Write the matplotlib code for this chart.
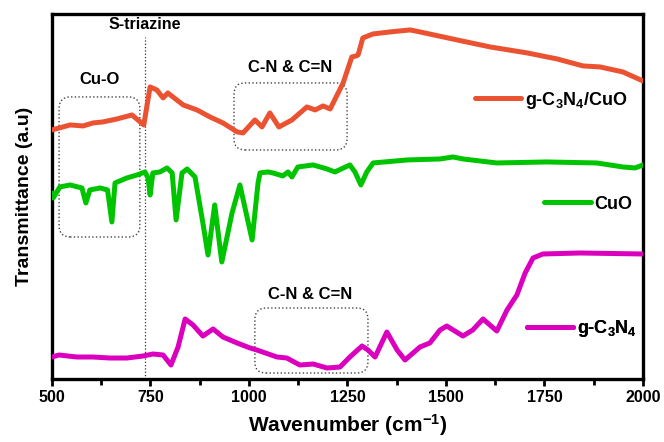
import numpy as np
import matplotlib.pyplot as plt
from matplotlib.patches import FancyBboxPatch

# Font setup ----------------------------------------------
plt.rcParams['font.family'] = ['Liberation Sans', 'DejaVu Sans']
plt.rcParams['font.weight'] = 'bold'
plt.rcParams['axes.labelweight'] = 'bold'
plt.rcParams['mathtext.fontset'] = 'custom'
plt.rcParams['mathtext.rm'] = 'Liberation Sans:bold'
plt.rcParams['mathtext.bf'] = 'Liberation Sans:bold'
plt.rcParams['mathtext.default'] = 'rm'

# Data ----------------------------------------------------
wn_comp = [500, 546, 579, 604, 629, 665, 703, 718, 733, 749, 766, 782, 794, 833,
           868, 901, 934, 970, 985, 1015, 1033, 1053, 1076, 1109, 1147, 1168,
           1188, 1206, 1239, 1261, 1272, 1277, 1289, 1315, 1358, 1409, 1434,
           1528, 1612, 1706, 1782, 1848, 1891, 1949, 2000]
t_comp = [249, 254, 253, 256, 257, 260, 264, 259, 254, 292, 289, 281, 286, 274,
          269, 262, 256, 247, 246, 259, 252, 266, 252, 259, 272, 269,
          273, 270, 296, 322, 323, 324, 341, 345, 347, 349, 347,
          339, 332, 326, 320, 313, 312, 307, 298]

wn_cuo = [500, 503, 520, 546, 576, 586, 596, 622, 641, 652, 660, 690, 716, 736,
          744, 749, 756, 774, 792, 805, 815, 830, 843, 863, 883, 896, 913, 931,
          957, 977, 1008, 1023, 1028, 1048, 1061, 1086, 1099, 1109, 1124, 1163,
          1198, 1218, 1256, 1269, 1284, 1299, 1315, 1401, 1485, 1518, 1543,
          1629, 1756, 1883, 1949, 1980, 2000]
t_cuo = [186, 181, 192, 194, 191, 176, 189, 191, 189, 157, 196, 201, 204, 207,
         201, 184, 206, 207, 211, 206, 159, 206, 210, 202, 156, 124, 174, 117,
         166, 194, 139, 196, 206, 207, 206, 203, 207, 202, 212, 214,
         210, 207, 214, 207, 194, 207, 216, 219, 220, 222, 220,
         216, 217, 216, 212, 211, 214]

wn_gcn = [500, 518, 563, 604, 647, 690, 731, 756, 782, 802, 820, 838, 858, 883,
          909, 934, 970, 1003, 1020, 1071, 1096, 1129, 1163, 1198, 1231, 1256,
          1287, 1302, 1320, 1350, 1376, 1396, 1434, 1459, 1485, 1502, 1543,
          1568, 1594, 1629, 1655, 1680, 1701, 1721, 1746, 1840, 2000]
t_gcn = [22, 24, 22, 22, 21, 21, 23, 25, 24, 14, 32, 60, 54, 43,
         50, 42, 36, 31, 29, 22, 21, 14, 15, 11, 12, 22,
         33, 29, 22, 47, 29, 19, 32, 36, 49, 53, 43,
         49, 60, 48, 69, 84, 106, 121, 125, 126, 125]

labels = ['g-C$_3$N$_4$/CuO', 'CuO', 'g-C$_3$N$_4$']
colors = ['#EB5232', '#00C400', '#DA00BE']

x_ticks = [500, 750, 1000, 1250, 1500, 1750, 2000]
triazine_wn = 736

# Figure --------------------------------------------------
fig = plt.figure(figsize=(6.64, 4.42), dpi=100)
ax = fig.add_axes([0.0783, 0.1425, 0.890, 0.826])

series = [(wn_comp, t_comp), (wn_cuo, t_cuo), (wn_gcn, t_gcn)]
lines = []
for (x, y), c in zip(series, colors):
    ln, = ax.plot(x, y, color=c, lw=3.6, solid_joinstyle='round',
                  solid_capstyle='round', zorder=3)
    lines.append(ln)

ax.set_xlim(500, 2000)
ax.set_ylim(0, 365)

# separate legend entries next to each curve
leg_pos = [(0.715, 0.764), (0.832, 0.479), (0.803, 0.137)]
for ln, lab, pos in zip(lines, labels, leg_pos):
    lg = ax.legend([ln], [lab], loc='center left', bbox_to_anchor=pos,
                   frameon=False, handlelength=2.6, handletextpad=0.2,
                   borderpad=0, borderaxespad=0,
                   prop={'size': 13, 'weight': 'bold'})
    ax.add_artist(lg)

# S-triazine marker
ax.plot([triazine_wn, triazine_wn], [0, 342], ls=':', color='#333333', lw=0.9)
ax.text(triazine_wn, 354, 'S-triazine', ha='center', va='center',
        fontsize=11.5, fontweight='bold')

# dotted rounded boxes
boxes = [(518, 142, 205, 140), (962, 229, 287, 67), (1015, 6, 287, 65)]
for bx, by, bw, bh in boxes:
    p = FancyBboxPatch((bx, by), bw, bh,
                       boxstyle='round,pad=0,rounding_size=28',
                       mutation_aspect=0.394, fill=False, ls=':',
                       ec='#444444', lw=1.0, zorder=2)
    ax.add_patch(p)

ax.text(622, 299, 'Cu-O', ha='center', va='center', fontsize=12, fontweight='bold')
ax.text(1104, 311, 'C-N & C=N', ha='center', va='center', fontsize=12, fontweight='bold')
ax.text(1155, 84, 'C-N & C=N', ha='center', va='center', fontsize=12, fontweight='bold')

# axes styling
ax.set_xticks(x_ticks)
ax.set_xticklabels([str(t) for t in x_ticks], fontweight='bold', fontsize=11.5)
ax.set_xticks([625, 875, 1125, 1375, 1625, 1875], minor=True)
ax.set_yticks([])
ax.tick_params(axis='x', which='major', direction='out', length=5, width=2, pad=3)
ax.tick_params(axis='x', which='minor', direction='out', length=4, width=2)
for s in ax.spines.values():
    s.set_linewidth(2.4)

ax.set_xlabel('Wavenumber (cm$^{-1}$)', fontsize=15, fontweight='bold', labelpad=5)
ax.set_ylabel('Transmittance (a.u)', fontsize=14, fontweight='bold', labelpad=14)

fig.savefig('out.png', dpi=100)
